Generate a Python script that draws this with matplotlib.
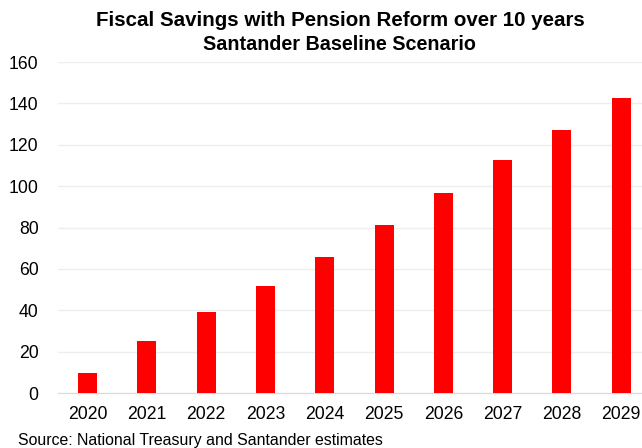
import matplotlib.pyplot as plt

plt.rcParams['font.family'] = ['Liberation Sans', 'DejaVu Sans']

# Data
years = ["2020", "2021", "2022", "2023", "2024", "2025", "2026", "2027", "2028", "2029"]
savings = [9.7, 25.1, 39.0, 51.7, 65.8, 81.2, 96.6, 112.8, 127.0, 142.8]
y_ticks = [0, 20, 40, 60, 80, 100, 120, 140, 160]

fig = plt.figure(figsize=(6.42, 4.48), dpi=100)
ax = fig.add_axes([58 / 642, 55 / 448, 1 - 58 / 642, 331 / 448])

ax.bar(range(len(years)), savings, width=0.32, color="#ff0000", zorder=3)

ax.set_xlim(-0.5, 9.35)
ax.set_ylim(0, 160)
ax.set_yticks(y_ticks)
ax.set_xticks(range(len(years)))
ax.set_xticklabels(years)
ax.tick_params(axis="both", length=0, labelsize=12.7, colors="#000000")
ax.tick_params(axis="x", pad=9)
ax.tick_params(axis="y", pad=14)

ax.grid(axis="y", color="#eeeeee", linewidth=1, zorder=0)
for s in ["top", "right", "left"]:
    ax.spines[s].set_visible(False)
ax.spines["bottom"].set_color("#d9d9d9")

# Title (two lines)
fig.text(340 / 642, 1 - 21 / 448, "Fiscal Savings with Pension Reform over 10 years",
         ha="center", va="center", fontsize=14.8, fontweight="bold")
fig.text(339 / 642, 1 - 44 / 448, "Santander Baseline Scenario",
         ha="center", va="center", fontsize=14.2, fontweight="bold")

# Source note
fig.text(18 / 642, 1 - 440 / 448, "Source: National Treasury and Santander estimates",
         ha="left", va="center", fontsize=11.4)

fig.savefig("out.png", dpi=100)
